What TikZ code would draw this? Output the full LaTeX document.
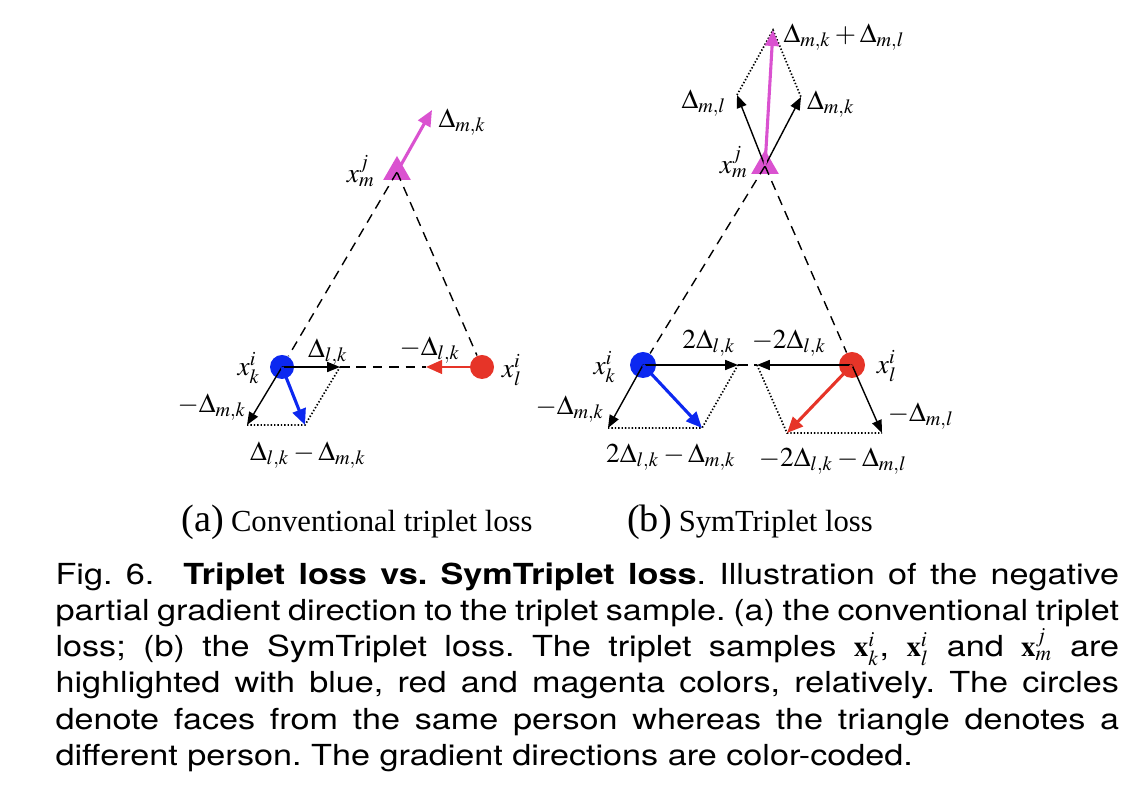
\documentclass[tikz,border=0pt]{standalone}
\usepackage{mathptmx}
\usepackage[no-math]{fontspec}
\setmainfont{Liberation Serif}
\newfontfamily\capfont[FakeStretch=1.18]{TeX Gyre Heros}
\usetikzlibrary{arrows.meta,shapes.geometric}

\definecolor{kblue}{RGB}{12,40,240}
\definecolor{lred}{RGB}{230,52,40}
\definecolor{mmag}{RGB}{218,82,208}

\begin{document}
\begin{tikzpicture}[
  x=0.0125cm, y=-0.0125cm,
  face/.style={circle,inner sep=0,minimum size=0.3cm},
  other/.style={regular polygon,regular polygon sides=3,inner sep=0,minimum size=0.4cm,fill=mmag},
  grad/.style={-{Triangle[length=1.6mm,width=1.25mm]},line width=0.5pt},
  cgrad/.style={-{Triangle[length=2mm,width=1.7mm]},line width=1.1pt},
  pair/.style={dash pattern=on 1.2mm off 0.85mm,line width=0.5pt},
  sumline/.style={dash pattern=on 0.5pt off 0.7pt,line width=0.6pt},
  lbl/.style={font=\fontsize{9.7}{11}\selectfont,inner sep=0}
]
\useasboundingbox (0,0) rectangle (1144,802);

% (a) conventional triplet loss
\node[face,fill=kblue] (ka) at (282,367) {};
\node[face,fill=lred] (la) at (482,367) {};
\node[other] (ma) at (397,172) {};
\coordinate (ta) at (340,367);
\coordinate (tb) at (426,367);
\coordinate (tc) at (247,425);
\coordinate (td) at (305,425);
\coordinate (te) at (432,110);
\draw[pair] (ma.center) -- (ka);
\draw[pair] (ma.center) -- (la);
\draw[pair] (ta) -- (tb);
\draw[sumline] (tc) -- (td) -- (ta);
\draw[grad] (ka.center) -- (ta);
\draw[grad] (ka.center) -- (tc);
\draw[cgrad,kblue] (ka.center) -- (td);
\draw[cgrad,lred,line width=0.8pt] (la.center) -- (tb);
\draw[cgrad,mmag] (ma.center) -- (te);
\node[lbl] (xma) at (361,171) {$x_m^j$};
\node[lbl,anchor=west] (dmka) at (438,122) {$\Delta_{m,k}$};
\node[lbl] (dlka) at (328,352) {$\Delta_{l,k}$};
\node[lbl] (ndlka) at (430,350) {$-\Delta_{l,k}$};
\node[lbl] (xka) at (249,368) {$x_k^i$};
\node[lbl] (xla) at (512,370) {$x_l^i$};
\node[lbl] (ndmka) at (212,407) {$-\Delta_{m,k}$};
\node[lbl] (suma) at (308,455) {$\Delta_{l,k}-\Delta_{m,k}$};

% (b) SymTriplet loss
\node[face,fill=kblue,minimum size=0.325cm] (kb) at (643,365) {};
\node[face,fill=lred,minimum size=0.325cm] (lb) at (852,365) {};
\node[other] (mb) at (765,166) {};
\coordinate (sa) at (738,365);
\coordinate (sb) at (757,365);
\coordinate (sc) at (608,428);
\coordinate (sd) at (702,428);
\coordinate (se) at (787,433);
\coordinate (sf) at (882,433);
\coordinate (sg) at (737,95);
\coordinate (sh) at (801,97);
\coordinate (si) at (773,30);
\draw[pair] (mb.center) -- (kb);
\draw[pair] (mb.center) -- (lb);
\draw[pair] (sa) -- (sb);
\draw[sumline] (sc) -- (sd) -- (sa);
\draw[sumline] (sb) -- (se) -- (sf);
\draw[sumline] (sg) -- (si) -- (sh);
\draw[grad] (kb.center) -- (sa);
\draw[grad] (kb.center) -- (sc);
\draw[grad] (lb.center) -- (sb);
\draw[grad] (lb.center) -- (sf);
\draw[grad] (mb.center) -- (sg);
\draw[grad] (mb.center) -- (sh);
\draw[cgrad,kblue] (kb.center) -- (sd);
\draw[cgrad,lred] (lb.center) -- (se);
\draw[cgrad,mmag] (mb.center) -- (si);
\node[lbl,anchor=west] (dsum) at (783,37) {$\Delta_{m,k}+\Delta_{m,l}$};
\node[lbl] (dmlb) at (704,103) {$\Delta_{m,l}$};
\node[lbl] (dmkb) at (831,104) {$\Delta_{m,k}$};
\node[lbl] (xmb) at (734,162) {$x_m^j$};
\node[lbl] (dlkb) at (709,343) {$2\Delta_{l,k}$};
\node[lbl] (ndlkb) at (789,343) {$-2\Delta_{l,k}$};
\node[lbl] (xkb) at (605,367) {$x_k^i$};
\node[lbl] (xlb) at (887,366) {$x_l^i$};
\node[lbl] (ndmkb) at (570,409) {$-\Delta_{m,k}$};
\node[lbl] (ndmlb) at (921,416) {$-\Delta_{m,l}$};
\node[lbl] (sumkb) at (671,457) {$2\Delta_{l,k}-\Delta_{m,k}$};
\node[lbl] (sumlb) at (833,461) {$-2\Delta_{l,k}-\Delta_{m,l}$};

% sub captions
\node[inner sep=0] (capa) at (357,522) {{\fontsize{13.6}{15}\selectfont (a)} \fontsize{10.9}{12}\selectfont Conventional triplet loss};
\node[inner sep=0] (capb) at (750,522) {{\fontsize{13.6}{15}\selectfont (b)} \fontsize{10.9}{12}\selectfont SymTriplet loss};

% figure caption
\node[anchor=north west,inner sep=0,text width=13.29cm,align=justify,
  font=\capfont\fontsize{10.3}{12.9}\selectfont\frenchspacing] (cap) at (55,562)
  {Fig.~6.\hspace{1em}\textbf{Triplet loss vs. SymTriplet loss}. Illustration of the negative\linebreak
  partial gradient direction to the triplet sample. (a) the conventional triplet\linebreak
  loss; (b) the SymTriplet loss. The triplet samples $\mathbf{x}_k^i$, $\mathbf{x}_l^i$ and $\mathbf{x}_m^j$ are\linebreak
  highlighted with blue, red and magenta colors, relatively. The circles\linebreak
  denote faces from the same person whereas the triangle denotes a\linebreak
  different person. The gradient directions are color-coded.};
\end{tikzpicture}
\end{document}
